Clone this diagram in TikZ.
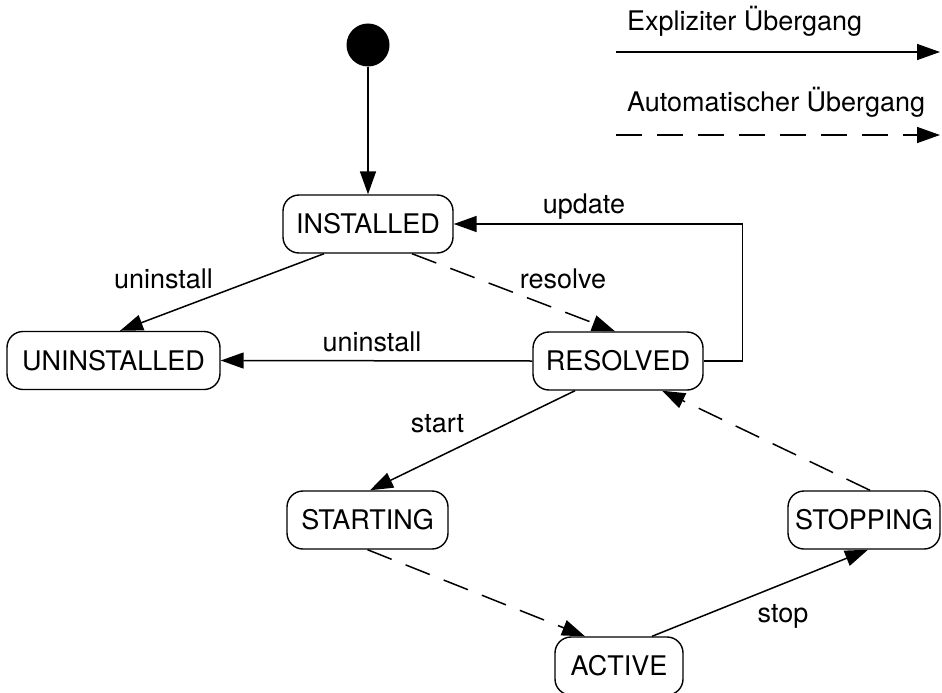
\documentclass[tikz,border=0pt]{standalone}
\usepackage{fontspec}
\setmainfont{TeX Gyre Heros}
\usetikzlibrary{arrows.meta}

\tikzset{
  state/.style={draw, line width=1.4pt, rounded corners=16pt, minimum height=58pt,
    inner sep=0pt, font=\fontsize{27}{32}\selectfont},
  lbl/.style={inner sep=0pt, font=\fontsize{27}{32}\selectfont},
  conn/.style={line width=1.5pt, -{Triangle[length=23pt,width=16pt]}},
  auto/.style={conn, dash pattern=on 26pt off 15pt},
}

\begin{document}
\begin{tikzpicture}[x=1pt, y=-1pt]
  \useasboundingbox (0,0) rectangle (942,693);

  % initial pseudo-state
  \node[circle, fill=black, minimum size=43pt, inner sep=0pt] (init) at (368,45) {};

  % states
  \node[state, minimum width=170pt] (installed)   at (368,224)   {INSTALLED};
  \node[state, minimum width=213pt] (uninstalled) at (113.5,360.5) {UNINSTALLED};
  \node[state, minimum width=170pt] (resolved)    at (618,361)   {RESOLVED};
  \node[state, minimum width=161pt] (starting)    at (367.5,520) {STARTING};
  \node[state, minimum width=152pt] (stopping)    at (864,520)   {STOPPING};
  \node[state, minimum width=128pt] (active)      at (619,666)   {ACTIVE};

  % transitions
  \draw[conn] (init) -- (installed);
  \draw[conn] ([xshift=-44pt]installed.south) -- ([xshift=6.5pt]uninstalled.north);
  \draw[auto] ([xshift=44pt]installed.south) -- ([xshift=-3pt]resolved.north);
  \draw[conn] (resolved.west) -- (uninstalled.east);
  \draw[conn] (resolved.east) -- ++(39,0) |- (installed.east);
  \draw[conn] ([xshift=-43pt]resolved.south) -- ([xshift=2.5pt]starting.north);
  \draw[auto] (starting.south) -- ([xshift=-34pt]active.north);
  \draw[conn] ([xshift=33pt]active.north) -- ([xshift=4pt]stopping.south);
  \draw[auto] ([xshift=6pt]stopping.north) -- ([xshift=44pt]resolved.south);

  % transition labels
  \node[lbl] (lUninstallA) at (163.5,278.5) {uninstall};
  \node[lbl] (lResolve)    at (563,279)     {resolve};
  \node[lbl] (lUpdate)     at (584,207)     {update};
  \node[lbl] (lUninstallB) at (372,342)     {uninstall};
  \node[lbl] (lStart)      at (437.5,423.5) {start};
  \node[lbl] (lStop)       at (783,616)     {stop};

  % legend
  \node[lbl, anchor=west] (legExplicit) at (627,21)  {Expliziter Übergang};
  \node[lbl, anchor=west] (legAuto)     at (627,102) {Automatischer Übergang};
  \coordinate (legA1) at (616,52);
  \coordinate (legA2) at (940,52);
  \coordinate (legB1) at (616,135);
  \coordinate (legB2) at (940,135);
  \draw[conn] (legA1) -- (legA2);
  \draw[auto] (legB1) -- (legB2);
\end{tikzpicture}
\end{document}
